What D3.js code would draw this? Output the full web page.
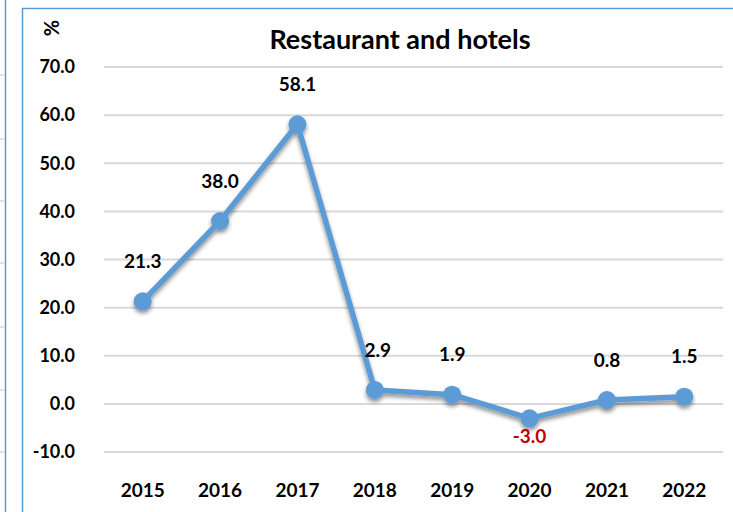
<!DOCTYPE html>
<html>
<head>
<meta charset="utf-8">
<script src="https://cdn.jsdelivr.net/npm/d3@7"></script>
<style>
  html, body { margin: 0; padding: 0; background: #fff; }
  svg { display: block; }
</style>
</head>
<body>
<div class="app"></div>
<script>
// chart data
var years = ["2015", "2016", "2017", "2018", "2019", "2020", "2021", "2022"];
var values = [21.3, 38.0, 58.1, 2.9, 1.9, -3.0, 0.8, 1.5];
var yTicks = [-10, 0, 10, 20, 30, 40, 50, 60, 70];
var title = "Restaurant and hotels";
var unit = "%";

var W = 733, H = 512;
var plot = {left: 104, right: 723, top: 67, bottom: 452};

var svg = d3.select(".app").append("svg")
    .attr("width", W)
    .attr("height", H);

// drop shadow for the line and markers
var defs = svg.append("defs");
var f = defs.append("filter").attr("id", "shadow")
    .attr("x", "-20%").attr("y", "-20%").attr("width", "140%").attr("height", "140%");
f.append("feGaussianBlur").attr("in", "SourceAlpha").attr("stdDeviation", 2.2);
f.append("feOffset").attr("dx", 0).attr("dy", 3).attr("result", "ob");
f.append("feComponentTransfer").append("feFuncA").attr("type", "linear").attr("slope", 0.45);
var m = f.append("feMerge");
m.append("feMergeNode");
m.append("feMergeNode").attr("in", "SourceGraphic");

// neighbouring chart frame on the left (partly visible)
svg.append("line")
    .attr("x1", 5.5).attr("x2", 5.5).attr("y1", 0).attr("y2", H)
    .attr("stroke", "#5B9BD5").attr("stroke-width", 1.5);
[75, 139, 201, 263, 327, 390, 452].forEach(function(y) {
  svg.append("line")
      .attr("x1", 0).attr("x2", 5).attr("y1", y).attr("y2", y)
      .attr("stroke", "#d9d9d9").attr("stroke-width", 1.5);
});

// chart frame
svg.append("path")
    .attr("d", "M22.5," + H + "V8.5H" + (W + 2))
    .attr("fill", "none")
    .attr("stroke", "#5B9BD5")
    .attr("stroke-width", 1.5);

// scales
var x = d3.scaleBand().domain(years).range([plot.left, plot.right]);
var y = d3.scaleLinear().domain([-10, 70]).range([plot.bottom, plot.top]);
var cx = function(d) { return x(d) + x.bandwidth() / 2; };

// gridlines
svg.append("g")
    .selectAll("line")
    .data(yTicks)
    .enter().append("line")
    .attr("x1", plot.left).attr("x2", plot.right)
    .attr("y1", function(d) { return y(d); })
    .attr("y2", function(d) { return y(d); })
    .attr("stroke", "#d9d9d9")
    .attr("stroke-width", 2);

// y axis labels
svg.append("g")
    .selectAll("text")
    .data(yTicks)
    .enter().append("text")
    .attr("x", 75)
    .attr("y", function(d) { return y(d); })
    .attr("dy", "0.35em")
    .attr("text-anchor", "end")
    .style("font", "bold 18px Lato, 'Open Sans', sans-serif")
    .style("fill", "#000")
    .text(function(d) { return d3.format(".1f")(d).replace("−", "-"); });

// x axis labels
svg.append("g")
    .selectAll("text")
    .data(years)
    .enter().append("text")
    .attr("x", cx)
    .attr("y", 490)
    .attr("dy", "0.35em")
    .attr("text-anchor", "middle")
    .style("font", "bold 19px Lato, 'Open Sans', sans-serif")
    .text(function(d) { return d; });

// unit label
svg.append("text")
    .attr("transform", "translate(52,28)rotate(-90)")
    .attr("text-anchor", "middle")
    .attr("dy", "0.35em")
    .style("font", "bold 20px Lato, sans-serif")
    .text(unit);

// title
svg.append("text")
    .attr("x", 400)
    .attr("y", 40)
    .attr("text-anchor", "middle")
    .attr("dy", "0.35em")
    .style("font", "bold 27px Lato, 'Open Sans', sans-serif")
    .text(title);

// line + markers
var data = years.map(function(d, i) { return {year: d, value: values[i]}; });
var valueline = d3.line()
    .x(function(d) { return cx(d.year); })
    .y(function(d) { return y(d.value); });

var series = svg.append("g").attr("filter", "url(#shadow)");
series.append("path")
    .datum(data)
    .attr("fill", "none")
    .attr("stroke", "#5B9BD5")
    .attr("stroke-width", 5.5)
    .attr("stroke-linejoin", "round")
    .attr("d", valueline);
series.selectAll("circle")
    .data(data)
    .enter().append("circle")
    .attr("cx", function(d) { return cx(d.year); })
    .attr("cy", function(d) { return y(d.value); })
    .attr("r", 9)
    .attr("fill", "#5B9BD5");

// data labels
svg.append("g")
    .selectAll("text")
    .data(data)
    .enter().append("text")
    .attr("x", function(d) { return cx(d.year) + (d.year === "2018" ? 3 : 0); })
    .attr("y", function(d) { return y(d.value) + (d.value < 0 ? 18 : -40); })
    .attr("dy", "0.35em")
    .attr("text-anchor", "middle")
    .style("font", "bold 19px Lato, 'Open Sans', sans-serif")
    .style("fill", function(d) { return d.value < 0 ? "#C00000" : "#000"; })
    .text(function(d) { return d3.format(".1f")(d.value).replace("−", "-"); });
</script>
</body>
</html>
